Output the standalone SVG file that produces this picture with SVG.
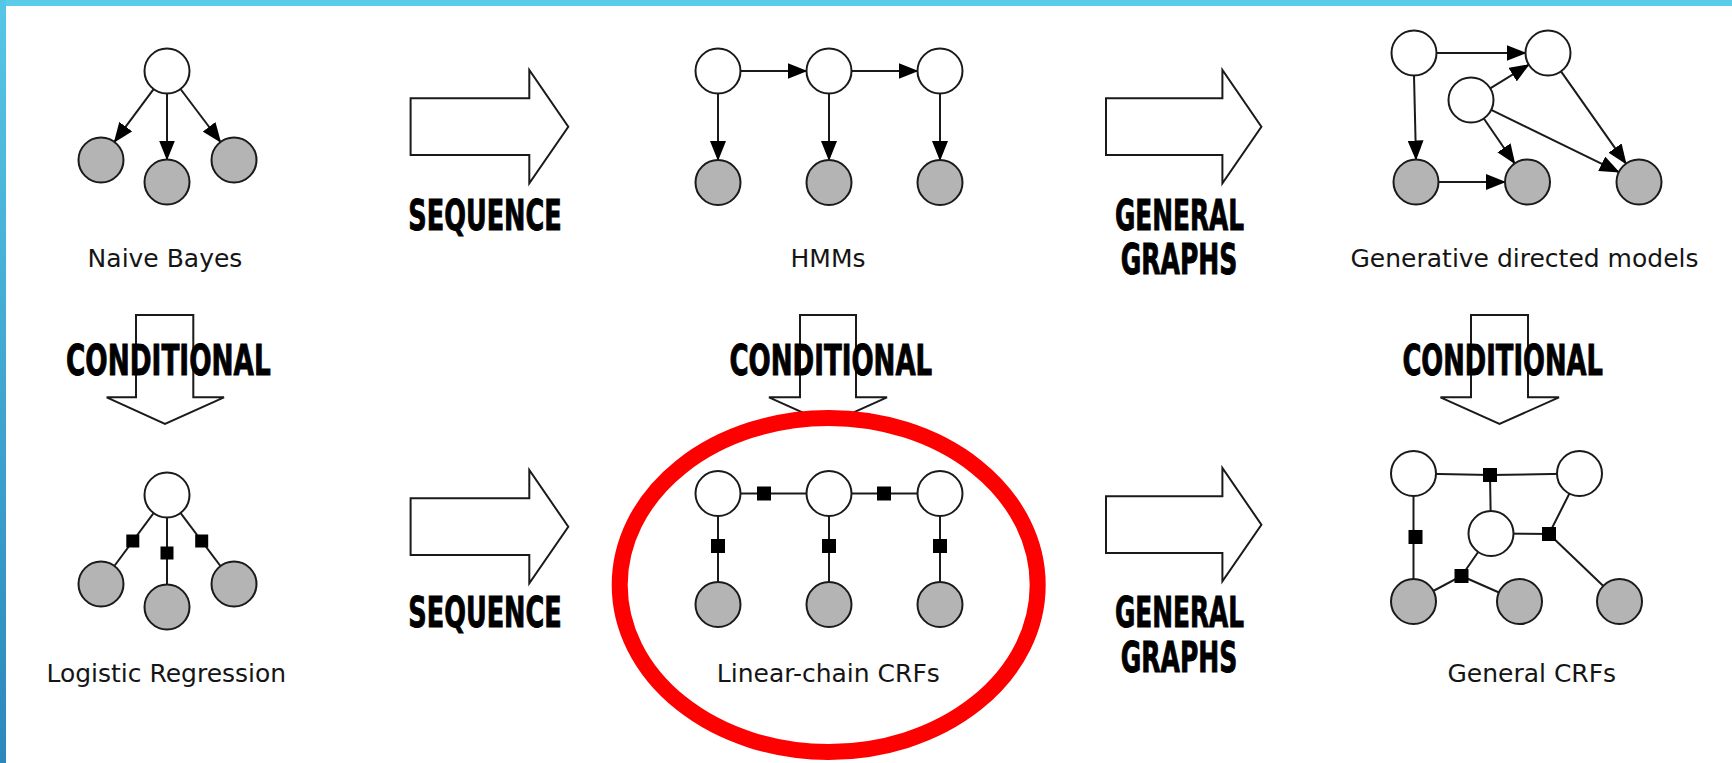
<svg xmlns="http://www.w3.org/2000/svg" width="1732" height="763" viewBox="0 0 1732 763">
  <defs>
    <linearGradient id="sideBar" x1="0" y1="0" x2="0" y2="1">
      <stop offset="0" stop-color="#56c6e6"/>
      <stop offset="1" stop-color="#2b88bb"/>
    </linearGradient>
    <marker id="tri" markerUnits="userSpaceOnUse" markerWidth="20" markerHeight="16" refX="19" refY="8" orient="auto">
      <path d="M0,0 L20,8 L0,16 Z" fill="#000"/>
    </marker>
    <style>
      .hid { fill: #fff; stroke: #1a1a1a; stroke-width: 2; }
      .obs { fill: #b4b4b4; stroke: #1a1a1a; stroke-width: 2; }
      .edge { stroke: #1a1a1a; stroke-width: 2; fill: none; }
      .arr { stroke: #1a1a1a; stroke-width: 2; fill: none; marker-end: url(#tri); }
      .fac { fill: #000; }
      .block { fill: #fff; stroke: #1a1a1a; stroke-width: 2; stroke-linejoin: miter; }
      .lbl { font-family: "DejaVu Sans", Verdana, sans-serif; font-size: 25px; fill: #151515; text-anchor: middle; }
      .big { font-family: "DejaVu Sans Condensed", "DejaVu Sans", sans-serif; font-stretch: condensed; font-weight: bold; font-size: 42px; fill: #000; stroke: #000; stroke-width: 0.9; }
    </style>
  </defs>

  <rect width="1732" height="763" fill="#fff"/>
  <rect x="0" y="0" width="1732" height="6" fill="#5ccde9"/>
  <rect x="0" y="0" width="6" height="763" fill="url(#sideBar)"/>

  <!-- block arrows between models -->
  <g id="transitions">
    <path class="block" d="M410.6,98.3 H529.3 V70 L568.3,126.7 L529.3,183.3 V155 H410.6 Z"/>
    <path class="block" d="M1106,98.3 H1222.4 V70 L1261.4,126.7 L1222.4,183.3 V155 H1106 Z"/>
    <path class="block" d="M410.6,498.3 H529.3 V470 L568.3,526.7 L529.3,583.3 V555 H410.6 Z"/>
    <path class="block" d="M1106,496.3 H1222.4 V468 L1261.4,524.7 L1222.4,581.3 V553 H1106 Z"/>
    <path class="block" d="M136,315 H193.3 V397.3 H224 L165,424 L106.7,397.3 H136 Z"/>
    <path class="block" d="M800,315 H856 V397.3 H887 L828,424 L769,397.3 H800 Z"/>
    <path class="block" d="M1471,315 H1528 V397.3 H1559 L1499.5,424 L1440.5,397.3 H1471 Z"/>

    <text class="big" x="408.3" y="229.5" textLength="153.4" lengthAdjust="spacingAndGlyphs">SEQUENCE</text>
    <text class="big" x="408.3" y="626.5" textLength="153.4" lengthAdjust="spacingAndGlyphs">SEQUENCE</text>
    <text class="big"><tspan x="1115" y="229.5" textLength="129" lengthAdjust="spacingAndGlyphs">GENERAL</tspan><tspan x="1120.7" y="273.5" textLength="116.6" lengthAdjust="spacingAndGlyphs">GRAPHS</tspan></text>
    <text class="big"><tspan x="1115" y="627" textLength="129" lengthAdjust="spacingAndGlyphs">GENERAL</tspan><tspan x="1120.7" y="671.5" textLength="116.6" lengthAdjust="spacingAndGlyphs">GRAPHS</tspan></text>
    <text class="big" x="66" y="375" textLength="204.7" lengthAdjust="spacingAndGlyphs">CONDITIONAL</text>
    <text class="big" x="729.4" y="375" textLength="202.8" lengthAdjust="spacingAndGlyphs">CONDITIONAL</text>
    <text class="big" x="1402.4" y="375" textLength="200.5" lengthAdjust="spacingAndGlyphs">CONDITIONAL</text>
  </g>

  <!-- directed and factor edges -->
  <g id="connectors">
    <!-- naive Bayes -->
    <line class="arr" x1="153.6" y1="89.1" x2="114.4" y2="141.9"/>
    <line class="arr" x1="167" y1="93.5" x2="167" y2="159.5"/>
    <line class="arr" x1="180.5" y1="89" x2="220.5" y2="142"/>
    <!-- HMM -->
    <line class="arr" x1="740.5" y1="71" x2="806.5" y2="71"/>
    <line class="arr" x1="851.5" y1="71" x2="917.5" y2="71"/>
    <line class="arr" x1="718" y1="93.5" x2="718" y2="160"/>
    <line class="arr" x1="829" y1="93.5" x2="829" y2="160"/>
    <line class="arr" x1="940" y1="93.5" x2="940" y2="160"/>
    <!-- generative directed model -->
    <line class="arr" x1="1436.5" y1="53" x2="1525.5" y2="53"/>
    <line class="arr" x1="1414" y1="75.5" x2="1416" y2="159.5"/>
    <line class="arr" x1="1490.2" y1="88.3" x2="1528.8" y2="64.7"/>
    <line class="arr" x1="1483.8" y1="118.5" x2="1514.7" y2="163.5"/>
    <line class="arr" x1="1491.2" y1="109.9" x2="1618.8" y2="172.1"/>
    <line class="arr" x1="1561" y1="71.4" x2="1626" y2="163.6"/>
    <line class="arr" x1="1438.5" y1="182" x2="1505" y2="182"/>
    <!-- logistic regression -->
    <line class="edge" x1="167" y1="495" x2="101" y2="584"/>
    <line class="edge" x1="167" y1="495" x2="167" y2="607"/>
    <line class="edge" x1="167" y1="495" x2="234" y2="584"/>
    <!-- linear-chain CRF -->
    <line class="edge" x1="718" y1="493.5" x2="940" y2="493.5"/>
    <line class="edge" x1="718" y1="493.5" x2="718" y2="604.5"/>
    <line class="edge" x1="829" y1="493.5" x2="829" y2="604.5"/>
    <line class="edge" x1="940" y1="493.5" x2="940" y2="604.5"/>
    <!-- general CRF -->
    <polyline class="edge" points="1413.5,473.5 1490,475 1579.5,473.5"/>
    <line class="edge" x1="1490" y1="475" x2="1491" y2="533.5"/>
    <line class="edge" x1="1413.5" y1="473.5" x2="1413.5" y2="601.5"/>
    <polyline class="edge" points="1491,533.5 1549,534 1579.5,473.5"/>
    <line class="edge" x1="1549" y1="534" x2="1619.5" y2="601.5"/>
    <polyline class="edge" points="1491,533.5 1461.5,576 1413.5,601.5"/>
    <line class="edge" x1="1461.5" y1="576" x2="1519.5" y2="601.5"/>
  </g>

  <g id="naive-bayes">
    <circle class="hid" cx="167" cy="71" r="22.5"/>
    <circle class="obs" cx="101" cy="160" r="22.5"/>
    <circle class="obs" cx="167" cy="182" r="22.5"/>
    <circle class="obs" cx="234" cy="160" r="22.5"/>
    <text class="lbl" x="165" y="267">Naive Bayes</text>
  </g>

  <g id="hmm">
    <circle class="hid" cx="718" cy="71" r="22.5"/>
    <circle class="hid" cx="829" cy="71" r="22.5"/>
    <circle class="hid" cx="940" cy="71" r="22.5"/>
    <circle class="obs" cx="718" cy="182.5" r="22.5"/>
    <circle class="obs" cx="829" cy="182.5" r="22.5"/>
    <circle class="obs" cx="940" cy="182.5" r="22.5"/>
    <text class="lbl" x="828" y="267">HMMs</text>
  </g>

  <g id="generative-directed">
    <circle class="hid" cx="1414" cy="53" r="22.5"/>
    <circle class="hid" cx="1548" cy="53" r="22.5"/>
    <circle class="hid" cx="1471" cy="100" r="22.5"/>
    <circle class="obs" cx="1416" cy="182" r="22.5"/>
    <circle class="obs" cx="1527.5" cy="182" r="22.5"/>
    <circle class="obs" cx="1639" cy="182" r="22.5"/>
    <text class="lbl" x="1524.5" y="267">Generative directed models</text>
  </g>

  <g id="logistic-regression">
    <rect class="fac" x="126.3" y="534.5" width="13" height="13"/>
    <rect class="fac" x="160.5" y="546.5" width="13" height="13"/>
    <rect class="fac" x="195.2" y="534.5" width="13" height="13"/>
    <circle class="hid" cx="167" cy="495" r="22.5"/>
    <circle class="obs" cx="101" cy="584" r="22.5"/>
    <circle class="obs" cx="167" cy="607" r="22.5"/>
    <circle class="obs" cx="234" cy="584" r="22.5"/>
    <text class="lbl" x="166.3" y="682">Logistic Regression</text>
  </g>

  <g id="linear-chain-crf">
    <rect class="fac" x="757" y="486.5" width="14" height="14"/>
    <rect class="fac" x="877" y="486.5" width="14" height="14"/>
    <rect class="fac" x="711" y="539" width="14" height="14"/>
    <rect class="fac" x="822" y="539" width="14" height="14"/>
    <rect class="fac" x="933" y="539" width="14" height="14"/>
    <circle class="hid" cx="718" cy="493.5" r="22.5"/>
    <circle class="hid" cx="829" cy="493.5" r="22.5"/>
    <circle class="hid" cx="940" cy="493.5" r="22.5"/>
    <circle class="obs" cx="718" cy="604.5" r="22.5"/>
    <circle class="obs" cx="829" cy="604.5" r="22.5"/>
    <circle class="obs" cx="940" cy="604.5" r="22.5"/>
    <text class="lbl" x="828.3" y="682">Linear-chain CRFs</text>
  </g>

  <g id="general-crf">
    <rect class="fac" x="1483" y="468" width="14" height="14"/>
    <rect class="fac" x="1408.5" y="530" width="14" height="14"/>
    <rect class="fac" x="1542" y="527" width="14" height="14"/>
    <rect class="fac" x="1454.5" y="569" width="14" height="14"/>
    <circle class="hid" cx="1413.5" cy="473.5" r="22.5"/>
    <circle class="hid" cx="1579.5" cy="473.5" r="22.5"/>
    <circle class="hid" cx="1491" cy="533.5" r="22.5"/>
    <circle class="obs" cx="1413.5" cy="601.5" r="22.5"/>
    <circle class="obs" cx="1519.5" cy="601.5" r="22.5"/>
    <circle class="obs" cx="1619.5" cy="601.5" r="22.5"/>
    <text class="lbl" x="1531.8" y="682">General CRFs</text>
  </g>

  <!-- highlight ring -->
  <ellipse id="highlight" cx="828.7" cy="585" rx="209" ry="167" fill="none" stroke="#ff0000" stroke-width="16"/>
</svg>
